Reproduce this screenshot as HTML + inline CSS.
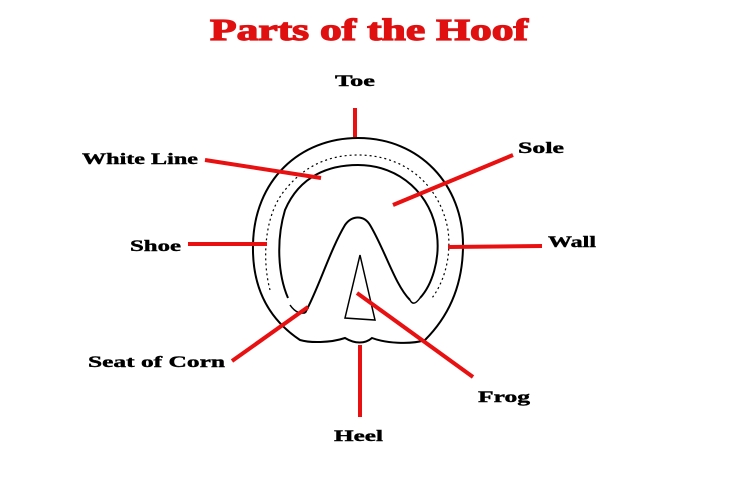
<!DOCTYPE html>
<html><head><style>html,body{margin:0;padding:0;background:#fff}svg{display:block}</style></head>
<body>
<svg width="730" height="484" viewBox="0 0 730 484" xmlns="http://www.w3.org/2000/svg">
<rect width="730" height="484" fill="#fff"/>
<text x="210" y="40" font-family="Liberation Serif, serif" font-weight="bold" font-size="31" fill="#e01010" stroke="#e01010" stroke-width="1.2" textLength="318" lengthAdjust="spacingAndGlyphs">Parts of the Hoof</text>
<g font-family="Liberation Serif, serif" font-weight="bold" font-size="16" fill="#000" stroke="#000" stroke-width="0.4">
<text x="335" y="86" textLength="40" lengthAdjust="spacingAndGlyphs">Toe</text>
<text x="82" y="164" textLength="116" lengthAdjust="spacingAndGlyphs">White Line</text>
<text x="518" y="153" textLength="46" lengthAdjust="spacingAndGlyphs">Sole</text>
<text x="130" y="251" textLength="51" lengthAdjust="spacingAndGlyphs">Shoe</text>
<text x="548" y="247" textLength="48" lengthAdjust="spacingAndGlyphs">Wall</text>
<text x="88" y="367" textLength="137" lengthAdjust="spacingAndGlyphs">Seat of Corn</text>
<text x="478" y="402" textLength="52" lengthAdjust="spacingAndGlyphs">Frog</text>
<text x="334" y="441" textLength="49" lengthAdjust="spacingAndGlyphs">Heel</text>
</g>
<g fill="none" stroke="#000" stroke-width="2">
<path d="M300,340 C270,320 252,290 253,245 C254,180 300,138 358,138 C420,138 463,185 463,245 C463,290 445,320 425,340 C410,345 385,343 372,338 C365,344 355,344 345,338 C330,343 310,343 300,340 Z"/>
<path d="M288,298 C278,275 276,240 285,210 C300,175 330,165 358,165 C400,165 432,195 437,235 C440,260 432,285 420,298"/>
<path d="M305,313 C318,290 330,250 345,225 C352,215 364,215 370,225 C385,250 395,285 410,300"/>
<path d="M360,255 L345,318 L375,320 Z" stroke-width="1.5"/>
<path d="M290,305 C297,315 303,313 305,313" stroke-width="1.5"/>
<path d="M420,298 C415,305 412,304 410,300" stroke-width="1.5"/>
</g>
<g fill="none" stroke="#000" stroke-width="1.2" stroke-dasharray="2 3">
<path d="M270,290 C262,260 264,215 285,190 C305,165 330,155 358,155 C405,155 440,185 448,230 C452,260 442,285 432,298"/>
</g>
<g stroke="#e81010" stroke-width="4" stroke-linecap="butt">
<line x1="355" y1="108" x2="355" y2="137"/>
<line x1="205" y1="160" x2="321" y2="178"/>
<line x1="393" y1="205" x2="513" y2="155"/>
<line x1="188" y1="244" x2="267" y2="244"/>
<line x1="448" y1="247" x2="542" y2="246"/>
<line x1="232" y1="361" x2="308" y2="307"/>
<line x1="357" y1="293" x2="473" y2="377"/>
<line x1="360" y1="345" x2="360" y2="417"/>
</g>
</svg>
</body></html>
